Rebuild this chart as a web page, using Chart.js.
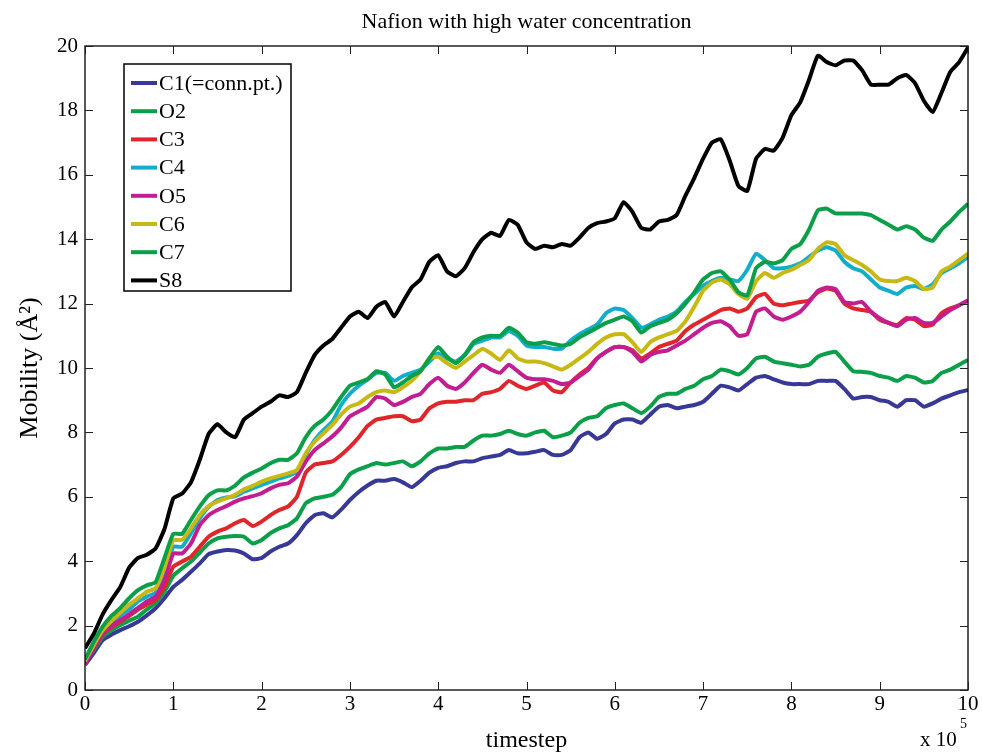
<!DOCTYPE html>
<html>
<head>
<meta charset="utf-8">
<script src="https://cdn.jsdelivr.net/npm/chart.js@4.4.1/dist/chart.umd.min.js"></script>
<style>
  html, body { margin: 0; padding: 0; background: #fff; }
  canvas { display: block; }
</style>
</head>
<body>
<canvas id="chart" width="982" height="752"></canvas>
<script>
// timestep in units of 1e5
const timestep = [
  0, 0.1, 0.2, 0.3, 0.4, 0.5, 0.6, 0.7, 0.8, 0.9,
  1, 1.1, 1.2, 1.3, 1.4, 1.5, 1.6, 1.7, 1.8, 1.9,
  2, 2.1, 2.2, 2.3, 2.4, 2.5, 2.6, 2.7, 2.8, 2.9,
  3, 3.1, 3.2, 3.3, 3.4, 3.5, 3.6, 3.7, 3.8, 3.9,
  4, 4.1, 4.2, 4.3, 4.4, 4.5, 4.6, 4.7, 4.8, 4.9,
  5, 5.1, 5.2, 5.3, 5.4, 5.5, 5.6, 5.7, 5.8, 5.9,
  6, 6.1, 6.2, 6.3, 6.4, 6.5, 6.6, 6.7, 6.8, 6.9,
  7, 7.1, 7.2, 7.3, 7.4, 7.5, 7.6, 7.7, 7.8, 7.9,
  8, 8.1, 8.2, 8.3, 8.4, 8.5, 8.6, 8.7, 8.8, 8.9,
  9, 9.1, 9.2, 9.3, 9.4, 9.5, 9.6, 9.7, 9.8, 9.9,
  10
];

const xTicks = [0, 1, 2, 3, 4, 5, 6, 7, 8, 9, 10];
const yTicks = [0, 2, 4, 6, 8, 10, 12, 14, 16, 18, 20];

const names = ["C1(=conn.pt.)", "O2", "C3", "C4", "O5", "C6", "C7", "S8"];
const colors = ["#383896", "#0a9f48", "#e0262a", "#10aecb", "#c31d92", "#c8b814", "#0a9f48", "#000000"];

const c1 = [
  0.78, 1.15, 1.55, 1.72, 1.86, 1.98, 2.12, 2.32, 2.54, 2.85,
  3.2, 3.42, 3.67, 3.93, 4.22, 4.3, 4.35, 4.33, 4.24, 4.06,
  4.1, 4.3, 4.45, 4.55, 4.81, 5.18, 5.43, 5.49, 5.36, 5.6,
  5.9, 6.15, 6.35, 6.5, 6.5, 6.55, 6.45, 6.3, 6.5, 6.75,
  6.9, 6.95, 7.05, 7.1, 7.1, 7.2, 7.25, 7.3, 7.45, 7.35,
  7.35, 7.4, 7.45, 7.3, 7.3, 7.45, 7.85, 8.0, 7.8, 7.95,
  8.28, 8.4, 8.4, 8.3, 8.55, 8.8, 8.85, 8.75, 8.8, 8.85,
  8.95, 9.2, 9.45, 9.4, 9.3, 9.5, 9.7, 9.75, 9.65, 9.55,
  9.5, 9.5, 9.5, 9.6, 9.6, 9.6, 9.35, 9.05, 9.1, 9.1,
  9.0, 8.95, 8.8, 9.0, 9.0, 8.8, 8.9, 9.05, 9.15, 9.25,
  9.32
];
const o2 = [
  0.85, 1.25, 1.65, 1.85, 2.02, 2.15, 2.28, 2.5, 2.7, 3.05,
  3.55, 3.78, 3.99, 4.27, 4.55, 4.71, 4.76, 4.78, 4.76, 4.55,
  4.66, 4.87, 5.02, 5.12, 5.33, 5.8, 5.95, 6.0, 6.06, 6.3,
  6.7, 6.85, 6.95, 7.05, 7.0, 7.05, 7.1, 6.95, 7.1, 7.35,
  7.5, 7.5, 7.55, 7.55, 7.75, 7.9, 7.9, 7.95, 8.05, 7.95,
  7.9, 8.0, 8.05, 7.85, 7.9, 8.0, 8.3, 8.45, 8.5, 8.75,
  8.85, 8.9, 8.75, 8.6, 8.8, 9.1, 9.2, 9.2, 9.35, 9.45,
  9.65, 9.75, 9.95, 9.9, 9.8, 10.0, 10.3, 10.35, 10.2, 10.15,
  10.1, 10.05, 10.1, 10.35, 10.45, 10.5, 10.2, 9.9, 9.88, 9.85,
  9.75, 9.7, 9.6, 9.75, 9.7, 9.55, 9.6, 9.85, 9.95, 10.1,
  10.25
];
const c3 = [
  0.85, 1.3, 1.72, 1.95, 2.12, 2.3, 2.5, 2.65, 2.8, 3.2,
  3.83, 3.99, 4.14, 4.45, 4.76, 4.92, 5.02, 5.18, 5.28, 5.09,
  5.23, 5.43, 5.59, 5.7, 6.0, 6.75, 7.0, 7.05, 7.1, 7.3,
  7.55, 7.85, 8.2, 8.4, 8.45, 8.5, 8.5, 8.35, 8.4, 8.75,
  8.9, 8.95, 8.95, 9.0, 9.0, 9.2, 9.25, 9.35, 9.6, 9.45,
  9.35, 9.45, 9.55, 9.3, 9.25, 9.55, 9.8, 10.0, 10.3, 10.5,
  10.65, 10.65, 10.55, 10.3, 10.45, 10.65, 10.75, 10.85, 11.15, 11.35,
  11.5, 11.65, 11.8, 11.85, 11.75, 11.85, 12.2, 12.3, 12.0, 11.95,
  12.0, 12.05, 12.1, 12.35, 12.47, 12.4, 12.0, 11.85, 11.8, 11.75,
  11.5, 11.4, 11.33, 11.55, 11.5, 11.3, 11.35, 11.7, 11.85, 11.95,
  12.1
];
const c4 = [
  0.88, 1.35, 1.8, 2.05, 2.3, 2.5, 2.75, 2.9, 3.02, 3.6,
  4.45, 4.45, 4.87, 5.33, 5.69, 5.9, 5.98, 6.02, 6.16, 6.26,
  6.37, 6.47, 6.57, 6.65, 6.78, 7.3, 7.76, 8.07, 8.33, 8.85,
  9.2, 9.45, 9.65, 9.85, 9.85, 9.6, 9.75, 9.85, 9.95, 10.2,
  10.45, 10.3, 10.2, 10.4, 10.75, 10.85, 10.95, 10.95, 11.15, 11.0,
  10.7, 10.65, 10.65, 10.6, 10.6, 10.85, 11.05, 11.2, 11.35, 11.7,
  11.85, 11.8, 11.55, 11.25, 11.35, 11.5, 11.6, 11.75, 12.05, 12.3,
  12.55, 12.7, 12.8, 12.75, 12.7, 13.05, 13.55, 13.35, 13.1, 13.1,
  13.15, 13.25, 13.45, 13.65, 13.75, 13.65, 13.3, 13.1, 13.0, 12.75,
  12.5, 12.4, 12.3, 12.5, 12.55, 12.45, 12.6, 12.95, 13.1, 13.25,
  13.45
];
const o5 = [
  0.8, 1.3, 1.75, 2.0, 2.17, 2.35, 2.55, 2.75, 2.9, 3.4,
  4.24, 4.24, 4.55, 5.12, 5.43, 5.59, 5.71, 5.85, 5.95, 6.02,
  6.11, 6.26, 6.37, 6.42, 6.63, 7.09, 7.45, 7.66, 7.87, 8.15,
  8.5, 8.65, 8.8, 9.1, 9.05, 8.85, 8.95, 9.1, 9.2, 9.5,
  9.7, 9.45, 9.35, 9.55, 9.85, 10.1, 9.95, 9.85, 10.1, 9.9,
  9.7, 9.65, 9.65, 9.6, 9.5, 9.55, 9.75, 9.95, 10.3, 10.5,
  10.65, 10.65, 10.5, 10.2, 10.4, 10.5, 10.55, 10.7, 10.85, 11.05,
  11.25, 11.4, 11.45, 11.3, 11.0, 11.05, 11.75, 11.85, 11.6, 11.5,
  11.6, 11.75, 12.05, 12.4, 12.5, 12.45, 12.05, 12.0, 12.05, 11.75,
  11.55, 11.4, 11.3, 11.5, 11.55, 11.4, 11.4, 11.6, 11.8, 11.95,
  12.1
];
const c6 = [
  0.9, 1.4, 1.85, 2.15, 2.4, 2.65, 2.85, 3.05, 3.16, 3.8,
  4.65, 4.66, 5.02, 5.43, 5.71, 5.85, 5.95, 6.06, 6.23, 6.34,
  6.47, 6.57, 6.65, 6.73, 6.83, 7.35, 7.71, 7.97, 8.23, 8.55,
  8.8, 8.9, 9.1, 9.25, 9.3, 9.25, 9.4, 9.6, 9.9, 10.3,
  10.35, 10.15, 10.0, 10.2, 10.4, 10.6, 10.45, 10.25, 10.55, 10.3,
  10.2, 10.2, 10.15, 10.05, 9.95, 10.1, 10.3, 10.5, 10.75, 10.95,
  11.05, 11.05, 10.8, 10.5, 10.8, 10.95, 11.05, 11.15, 11.45, 11.9,
  12.4, 12.65, 12.75, 12.6, 12.3, 12.15, 12.7, 12.95, 12.8, 12.95,
  13.05, 13.2, 13.35, 13.7, 13.9, 13.85, 13.5, 13.35, 13.2, 13.0,
  12.75, 12.7, 12.7, 12.8, 12.7, 12.45, 12.5, 13.0, 13.15, 13.35,
  13.55
];
const c7 = [
  0.95, 1.5, 1.97, 2.3, 2.55, 2.85, 3.1, 3.25, 3.35, 4.1,
  4.85, 4.85, 5.28, 5.7, 6.05, 6.2, 6.2, 6.35, 6.6, 6.75,
  6.88, 7.04, 7.15, 7.15, 7.35, 7.85, 8.2, 8.4, 8.7, 9.1,
  9.45, 9.55, 9.65, 9.9, 9.8, 9.4, 9.55, 9.75, 9.9, 10.3,
  10.65, 10.35, 10.15, 10.4, 10.8, 10.95, 11.0, 11.0, 11.25, 11.1,
  10.8, 10.75, 10.8, 10.75, 10.7, 10.75, 10.95, 11.1, 11.25, 11.4,
  11.5, 11.6, 11.45, 11.1, 11.3, 11.4, 11.5, 11.7, 12.0, 12.35,
  12.75, 12.95, 13.0, 12.75, 12.35, 12.25, 13.1, 13.3, 13.25, 13.35,
  13.7, 13.85, 14.3, 14.9, 14.95, 14.8, 14.8, 14.8, 14.8, 14.75,
  14.6, 14.45, 14.3, 14.4, 14.3, 14.05, 13.95, 14.3, 14.55, 14.85,
  15.1
];
const s8 = [
  1.3, 1.75, 2.35, 2.8, 3.2, 3.8, 4.1, 4.2, 4.4, 5.0,
  5.95, 6.1, 6.45, 7.15, 7.95, 8.25, 8.0, 7.85, 8.4, 8.6,
  8.8, 8.95, 9.15, 9.1, 9.25, 9.85, 10.4, 10.7, 10.9, 11.25,
  11.6, 11.75, 11.55, 11.9, 12.05, 11.6, 12.05, 12.5, 12.75, 13.3,
  13.5, 13.0, 12.85, 13.1, 13.6, 14.0, 14.2, 14.1, 14.6, 14.45,
  13.9, 13.7, 13.8, 13.75, 13.85, 13.8, 14.05, 14.35, 14.5, 14.55,
  14.65, 15.15, 14.85, 14.35, 14.3, 14.55, 14.6, 14.75, 15.35, 15.9,
  16.5, 17.0, 17.1, 16.45, 15.65, 15.5, 16.5, 16.8, 16.75, 17.15,
  17.85, 18.25, 18.95, 19.7, 19.5, 19.4, 19.55, 19.55, 19.25, 18.8,
  18.8, 18.8, 19.0, 19.1, 18.85, 18.3, 17.95, 18.55, 19.2, 19.5,
  19.95
];

const series = [c1, o2, c3, c4, o5, c6, c7, s8];
const serif = '"Liberation Serif", "Times New Roman", serif';

// white page, box with MATLAB style inward ticks, legend box, exponent label
const matlabFrame = {
  id: "matlabFrame",
  beforeDraw(chart) {
    const ctx = chart.ctx;
    ctx.save();
    ctx.fillStyle = "#fff";
    ctx.fillRect(0, 0, chart.width, chart.height);
    ctx.restore();
  },
  afterDraw(chart) {
    const { ctx, chartArea: a, scales } = chart;
    const tl = 8;
    ctx.save();
    ctx.strokeStyle = "#000";
    ctx.lineWidth = 1.3;
    ctx.strokeRect(a.left, a.top, a.right - a.left, a.bottom - a.top);
    ctx.lineWidth = 1;
    ctx.strokeStyle = "#222";
    ctx.beginPath();
    xTicks.forEach(v => {
      const px = Math.round(scales.x.getPixelForValue(v)) + 0.5;
      ctx.moveTo(px, a.bottom); ctx.lineTo(px, a.bottom - tl);
      ctx.moveTo(px, a.top); ctx.lineTo(px, a.top + tl);
    });
    yTicks.forEach(v => {
      const py = Math.round(scales.y.getPixelForValue(v)) + 0.5;
      ctx.moveTo(a.left, py); ctx.lineTo(a.left + tl, py);
      ctx.moveTo(a.right, py); ctx.lineTo(a.right - tl, py);
    });
    ctx.stroke();

    // legend
    const bx = a.left + 39, by = a.top + 18, bw = 167, bh = 227, row = 28.2;
    ctx.fillStyle = "#fff";
    ctx.fillRect(bx, by, bw, bh);
    ctx.strokeStyle = "#000";
    ctx.lineWidth = 1.5;
    ctx.strokeRect(bx, by, bw, bh);
    ctx.font = "22px " + serif;
    ctx.textBaseline = "middle";
    ctx.textAlign = "left";
    chart.data.datasets.forEach((ds, i) => {
      const cy = by + 19 + i * row;
      ctx.strokeStyle = ds.borderColor;
      ctx.lineWidth = 4;
      ctx.beginPath();
      ctx.moveTo(bx + 7, cy); ctx.lineTo(bx + 33, cy);
      ctx.stroke();
      ctx.fillStyle = "#000";
      ctx.fillText(ds.label, bx + 35, cy + 1);
    });

    // x 10^5
    ctx.fillStyle = "#000";
    ctx.textBaseline = "alphabetic";
    ctx.font = "21px " + serif;
    ctx.fillText("x 10", 920, 746);
    ctx.font = "14px " + serif;
    ctx.fillText("5", 960, 728);
    ctx.restore();
  }
};

new Chart(document.getElementById("chart"), {
  type: "line",
  data: {
    datasets: series.map((vals, i) => ({
      label: names[i],
      data: timestep.map((t, j) => ({ x: t, y: vals[j] })),
      borderColor: colors[i],
      backgroundColor: colors[i],
      borderWidth: 4,
      pointRadius: 0,
      tension: 0.15,
      fill: false,
      order: series.length - 1 - i
    }))
  },
  options: {
    responsive: false,
    animation: false,
    layout: { padding: { left: 0, right: 14, top: 0, bottom: 0 } },
    plugins: {
      legend: { display: false },
      tooltip: { enabled: false },
      title: {
        display: true,
        fullSize: false,
        text: "Nafion with high water concentration",
        color: "#000",
        font: { family: serif, size: 22, weight: "normal" },
        padding: { top: 9, bottom: 10.6 }
      }
    },
    scales: {
      x: {
        type: "linear",
        min: 0,
        max: 10,
        afterBuildTicks: s => { s.ticks = xTicks.map(v => ({ value: v })); },
        ticks: { color: "#000", font: { family: serif, size: 21 }, padding: 2, maxRotation: 0 },
        grid: { display: false, drawTicks: false },
        border: { display: false },
        title: {
          display: true,
          text: "timestep",
          color: "#000",
          font: { family: serif, size: 24 },
          padding: { top: 0, bottom: -3 }
        },
        afterFit: s => { s.height = 62; }
      },
      y: {
        min: 0,
        max: 20,
        afterBuildTicks: s => { s.ticks = yTicks.map(v => ({ value: v })); },
        ticks: { color: "#000", font: { family: serif, size: 21 }, padding: 7 },
        grid: { display: false, drawTicks: false },
        border: { display: false },
        title: {
          display: true,
          text: "Mobility (Å²)",
          color: "#000",
          font: { family: serif, size: 26 },
          padding: { top: 15, bottom: 0 }
        },
        afterFit: s => { s.width = 85; }
      }
    }
  },
  plugins: [matlabFrame]
});
</script>
</body>
</html>
